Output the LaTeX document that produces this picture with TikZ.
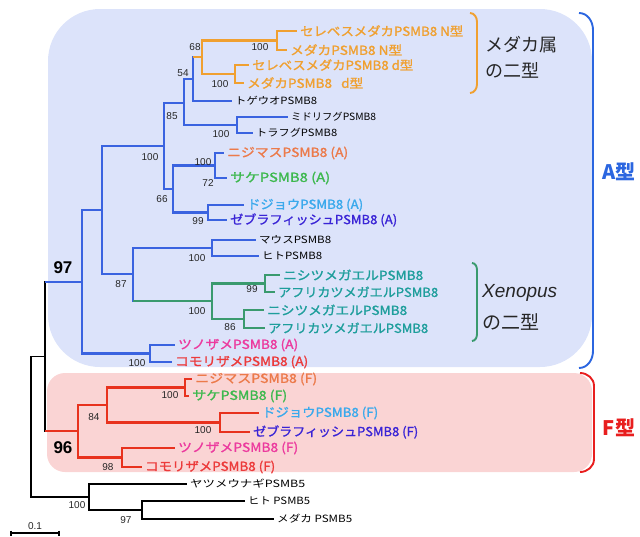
\documentclass[tikz,border=0pt]{standalone}
\usepackage{fontspec}
\usepackage{graphicx}
\setmainfont{Liberation Sans}
\newfontfamily\jp{Noto Sans CJK JP}
\newfontfamily\jpm{Noto Sans CJK JP}[FakeBold=1.3]
\newcommand\fitw[2]{\resizebox{#1pt}{\height}{#2}}
\definecolor{bl}{HTML}{3A63E0}
\definecolor{boxA}{HTML}{DCE3FA}
\definecolor{boxF}{HTML}{FAD4D4}
\definecolor{org}{HTML}{F0A030}
\definecolor{coral}{HTML}{EC7A4A}
\definecolor{grn}{HTML}{3DB84E}
\definecolor{lblue}{HTML}{3AA9EC}
\definecolor{indg}{HTML}{3A24D6}
\definecolor{mag}{HTML}{EC3A9E}
\definecolor{redt}{HTML}{EC3A3A}
\definecolor{xteal}{HTML}{1E9E9C}
\definecolor{xgrn}{HTML}{3A9A6E}
\definecolor{redl}{HTML}{E8321E}
\definecolor{Ared}{HTML}{E81E1E}
\definecolor{Ablue}{HTML}{2B66E0}
\tikzset{
  br/.style={line width=2.1pt},
  blk/.style={line width=1.7pt, black},
  leafc/.style={anchor=west, inner xsep=3pt, inner ysep=1pt, font=\jpm\fontsize{12.5}{13}\selectfont},
  leafk/.style={anchor=west, inner xsep=3pt, inner ysep=1pt, font=\jp\fontsize{10}{10}\selectfont, text=black},
  bs/.style={font=\fontsize{10}{10}\selectfont, text=black!85, inner sep=0pt},
  bsb/.style={font=\bfseries\fontsize{17}{17}\selectfont, inner sep=0pt},
  brk/.style={line width=1.9pt},
  side/.style={anchor=west, inner sep=0pt, font=\jp\fontsize{18}{18}\selectfont, text=black!85},
  typ/.style={font=\jp\bfseries\fontsize{20}{20}\selectfont, inner sep=0pt}
}
\begin{document}
\begin{tikzpicture}[x=1pt,y=-1pt]
\useasboundingbox (0,0) rectangle (640,536);
% background boxes
\fill[boxA, rounded corners=52pt] (48,9) rectangle (592,367);
\fill[boxF, rounded corners=18pt] (47,373) rectangle (592,472);

% internal nodes
\coordinate (root) at (31,427);
\coordinate (nIn) at (45,356.5);
\coordinate (nA) at (82,282);
\coordinate (nA1) at (102,210);
\coordinate (n164) at (164,146);
\coordinate (n85) at (184,103);
\coordinate (n54) at (193,79);
\coordinate (n68) at (202,57);
\coordinate (nN) at (277,40.5);
\coordinate (nd) at (235,74);
\coordinate (nFugu) at (237,125);
\coordinate (n66) at (173,189);
\coordinate (nSal) at (215,165.5);
\coordinate (nLZ) at (208,212.5);
\coordinate (n87) at (133,274);
\coordinate (nMam) at (212,248);
\coordinate (nX) at (212,301);
\coordinate (n99) at (265,283.5);
\coordinate (n86) at (244,319);
\coordinate (nSA) at (150,353.5);
\coordinate (nF) at (78,431);
\coordinate (n84) at (107,405);
\coordinate (nSalF) at (185,387.5);
\coordinate (nLZF) at (220,422.5);
\coordinate (nSF) at (122,457.5);
\coordinate (n5) at (89,497);
\coordinate (n97) at (142,510);

% leaves
\node[leafc, text=org] (l1) at (297,31) {\fitw{163}{セレベスメダカPSMB8 N型}};
\node[leafc, text=org] (l2) at (287,50) {\fitw{112}{メダカPSMB8 N型}};
\node[leafc, text=org] (l3) at (249,65) {\fitw{161}{セレベスメダカPSMB8 d型}};
\node[leafc, text=org] (l4) at (244,83) {\fitw{116}{メダカPSMB8\ \ \ d型}};
\node[leafk] (l5) at (232,101) {\fitw{82}{トゲウオPSMB8}};
\node[leafk] (l6) at (288,117) {\fitw{85}{ミドリフグPSMB8}};
\node[leafk] (l7) at (253,133) {\fitw{81}{トラフグPSMB8}};
\node[leafc, text=coral] (l8) at (224,153) {\fitw{121}{ニジマスPSMB8 (A)}};
\node[leafc, text=grn] (l9) at (227,178) {\fitw{100}{サケPSMB8 (A)}};
\node[leafc, text=lblue] (l10) at (244,205) {\fitw{116}{ドジョウPSMB8 (A)}};
\node[leafc, text=indg] (l11) at (227,220) {\fitw{167}{ゼブラフィッシュPSMB8 (A)}};
\node[leafk] (l12) at (256,240) {\fitw{72}{マウスPSMB8}};
\node[leafk] (l13) at (259,256) {\fitw{60}{ヒトPSMB8}};
\node[leafc, text=xteal] (l14) at (280,275) {\fitw{140}{ニシツメガエルPSMB8}};
\node[leafc, text=xteal] (l15) at (275,292) {\fitw{160}{アフリカツメガエルPSMB8}};
\node[leafc, text=xteal] (l16) at (264,310) {\fitw{140}{ニシツメガエルPSMB8}};
\node[leafc, text=xteal] (l17) at (265,328) {\fitw{160}{アフリカツメガエルPSMB8}};
\node[leafc, text=mag] (l18) at (175,345) {\fitw{120}{ツノザメPSMB8 (A)}};
\node[leafc, text=redt] (l19) at (172,362) {\fitw{133}{コモリザメPSMB8 (A)}};
\node[leafc, text=coral] (l20) at (192,379) {\fitw{122}{ニジマスPSMB8 (F)}};
\node[leafc, text=grn] (l21) at (189,396) {\fitw{95}{サケPSMB8 (F)}};
\node[leafc, text=lblue] (l22) at (259,413) {\fitw{116}{ドジョウPSMB8 (F)}};
\node[leafc, text=indg] (l23) at (250,432) {\fitw{165}{ゼブラフィッシュPSMB8 (F)}};
\node[leafc, text=mag] (l24) at (175,448) {\fitw{120}{ツノザメPSMB8 (F)}};
\node[leafc, text=redt] (l25) at (142,467) {\fitw{130}{コモリザメPSMB8 (F)}};
\node[leafk] (l26) at (187,484) {\fitw{115}{ヤツメウナギPSMB5}};
\node[leafk] (l27) at (245,501) {\fitw{62}{ヒト PSMB5}};
\node[leafk] (l28) at (274,519) {\fitw{75}{メダカ PSMB5}};

% branches: orange clade
\draw[br, org] (nN) |- (l1); \draw[br, org] (nN) |- (l2);
\draw[br, org] (nd) |- (l3); \draw[br, org] (nd) |- (l4);
\draw[br, org] (n68) |- (nN); \draw[br, org] (n68) |- (nd);
% blue clade
\draw[br, bl] (n54) |- (l5); \draw[br, bl] (n54) |- (n68);
\draw[br, org] (n54 |- n68) -- (n68);
\draw[br, bl] (nFugu) |- (l6); \draw[br, bl] (nFugu) |- (l7);
\draw[br, bl] (n85) |- (n54); \draw[br, bl] (n85) |- (nFugu);
\draw[br, bl] (nSal) |- (l8); \draw[br, bl] (nSal) |- (l9);
\draw[br, bl] (nLZ) |- (l10); \draw[br, bl] (nLZ) |- (l11);
\draw[br, bl] (n66) |- (nSal); \draw[br, bl] (n66) |- (nLZ);
\draw[br, bl] (n164) |- (n85); \draw[br, bl] (n164) |- (n66);
\draw[br, bl] (nMam) |- (l12); \draw[br, bl] (nMam) |- (l13);
\draw[br, xgrn] (n99) |- (l14); \draw[br, xgrn] (n99) |- (l15);
\draw[br, xgrn] (n86) |- (l16); \draw[br, xgrn] (n86) |- (l17);
\draw[br, xgrn] (nX) |- (n99); \draw[br, xgrn] (nX) |- (n86);
\draw[br, bl] (n87) |- (nMam); \draw[br, bl] (n87) |- (nX);
\draw[br, xgrn] (n87 |- nX) -- (nX);
\draw[br, bl] (nA1) |- (n164); \draw[br, bl] (nA1) |- (n87);
\draw[br, bl] (nSA) |- (l18); \draw[br, bl] (nSA) |- (l19);
\draw[br, bl] (nA) |- (nA1); \draw[br, bl] (nA) |- (nSA);
% red clade
\draw[br, redl] (nSalF) |- (l20); \draw[br, redl] (nSalF) |- (l21);
\draw[br, redl] (nLZF) |- (l22); \draw[br, redl] (nLZF) |- (l23);
\draw[br, redl] (n84) |- (nSalF); \draw[br, redl] (n84) |- (nLZF);
\draw[br, redl] (nSF) |- (l24); \draw[br, redl] (nSF) |- (l25);
\draw[br, redl] (nF) |- (n84); \draw[br, redl] (nF) |- (nSF);
% ingroup and root
\draw[blk] (nIn) |- (nA); \draw[blk] (nIn) |- (nF);
\draw[br, bl] (nIn |- nA) -- (nA);
\draw[br, redl] (nIn |- nF) -- (nF);
\draw[blk] (n97) |- (l27); \draw[blk] (n97) |- (l28);
\draw[blk] (n5) |- (l26); \draw[blk] (n5) |- (n97);
\draw[blk] (root) |- (nIn); \draw[blk] (root) |- (n5);

% bootstrap values
\node[bs] (b68) at (195,47) {68};
\node[bs] (b54) at (183,73) {54};
\node[bs] (b85) at (172,116) {85};
\node[bs] (bN) at (260,47) {100};
\node[bs] (bd) at (220,84) {100};
\node[bs] (bfg) at (221,134) {100};
\node[bs] (b164) at (150,157) {100};
\node[bs] (bsal) at (203,162) {100};
\node[bs] (b72) at (208,183) {72};
\node[bs] (b66) at (162,199) {66};
\node[bs] (b99a) at (198,221) {99};
\node[bs] (bmam) at (197,258) {100};
\node[bs] (b87) at (121,284) {87};
\node[bs] (b99x) at (252,289) {99};
\node[bs] (bx) at (197,311) {100};
\node[bs] (b86) at (230,327) {86};
\node[bs] (bsa) at (137,363) {100};
\node[bsb] (b97) at (63,268) {97};
\node[bs] (bsf) at (170,395) {100};
\node[bs] (b84) at (94,417) {84};
\node[bs] (blzf) at (203,430) {100};
\node[bsb] (b96) at (63,448) {96};
\node[bs] (b98) at (108,467) {98};
\node[bs] (b5) at (77,505) {100};
\node[bs] (b97s) at (126,520) {97};

% scale bar
\coordinate (sb1) at (11,533);
\coordinate (sb2) at (59,533);
\draw[line width=1.5pt] (sb1) -- (sb2);
\draw[line width=1.5pt] ([yshift=2.5pt]sb1) -- ([yshift=-2.5pt]sb1);
\draw[line width=1.5pt] ([yshift=2.5pt]sb2) -- ([yshift=-2.5pt]sb2);
\node[bs] (sbl) at (35,526) {0.1};

% brackets
\draw[brk, org] (470,13) to[out=0,in=90] (477,22) -- (477,84) to[out=-90,in=0] (470,93);
\node[side] (tme1) at (485,45) {メダカ属};
\node[side] (tme2) at (485,70) {の二型};
\draw[brk, xgrn] (472,263) to[out=0,in=90] (477,270) -- (477,334) to[out=-90,in=0] (472,341);
\node[side, font=\fontsize{19}{19}\selectfont\itshape] (txe1) at (482,293) {Xenopus};
\node[side, font=\jp\fontsize{19}{19}\selectfont] (txe2) at (482,322) {の二型};
\draw[brk, Ablue] (579,13) to[out=0,in=90] (593,30) -- (593,351) to[out=-90,in=0] (579,368);
\node[typ, text=Ablue] (tA) at (619,172) {A型};
\draw[brk, Ared] (580,373) to[out=0,in=90] (594,386) -- (594,459) to[out=-90,in=0] (580,472);
\node[typ, text=Ared] (tF) at (619,428) {F型};
\end{tikzpicture}
\end{document}
